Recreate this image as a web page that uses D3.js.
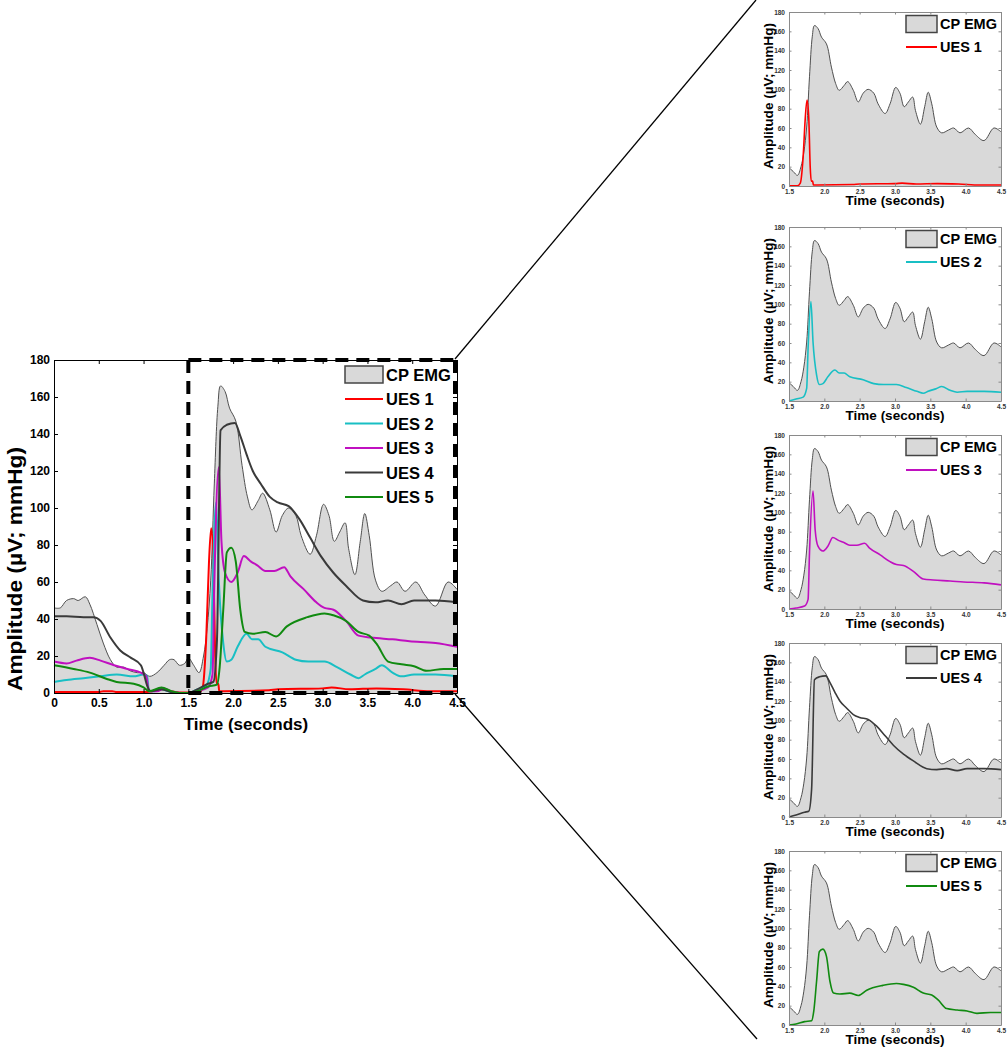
<!DOCTYPE html>
<html>
<head>
<meta charset="utf-8">
<script src="https://cdn.jsdelivr.net/npm/d3@7"></script>
<style>
  body { margin: 0; background: #fff; }
  text { font-family: "Liberation Sans", Arial, sans-serif; font-weight: bold; }
</style>
</head>
<body>
<svg id="chart" width="1008" height="1050"></svg>
<script>
// ---- data ----
const emgTime = [0, 0.07, 0.14, 0.22, 0.27, 0.35, 0.4, 0.48, 0.55, 0.63, 0.7, 0.78, 0.85, 0.93, 1.0, 1.07, 1.15, 1.23, 1.29, 1.34, 1.4, 1.46,
  1.5, 1.56, 1.62, 1.67, 1.71, 1.75, 1.79, 1.83, 1.86, 1.91, 1.96, 2.03, 2.1, 2.16, 2.21, 2.28, 2.33, 2.41, 2.48, 2.55, 2.62, 2.7, 2.76, 2.86,
  2.93, 3.01, 3.07, 3.13, 3.19, 3.25, 3.29, 3.36, 3.42, 3.47, 3.52, 3.59, 3.66, 3.76, 3.83, 3.92, 4.04, 4.14, 4.26, 4.4, 4.5];
const emgAmp = [46, 46, 50, 51, 50, 52, 48, 37, 27, 18, 14, 14, 12, 11, 11, 9, 11, 15, 18, 18, 15, 16,
  19, 15, 11, 20, 35, 61, 113, 155, 166, 163, 154, 147, 123, 106, 99, 104, 108, 99, 87, 96, 100, 96, 85, 75,
  85, 102, 96, 82, 87, 92, 78, 64, 82, 97, 85, 61, 55, 58, 60, 55, 60, 53, 47, 60, 56];

const ues1Time = [0, 0.5, 0.55, 0.65, 0.7, 1.0, 1.1, 1.2, 1.3, 1.4, 1.5, 1.62, 1.66, 1.7, 1.73, 1.755, 1.78, 1.8, 1.815, 1.835, 1.845, 1.9, 2.4, 2.5, 3.0, 3.1, 3.3, 3.6, 3.9, 4.2, 4.5];
const ues1Val = [0.5, 0.5, 1, 1, 0.5, 0.5, 1, 2, 1, 0.3, 0.3, 0.3, 3, 30, 70, 89, 70, 20, 5, 5, 1, 1, 1.5, 2, 2.5, 3, 2, 2.5, 2, 1, 1];

const ues2Time = [0, 0.14, 0.33, 0.52, 0.7, 0.89, 1.0, 1.04, 1.06, 1.12, 1.2, 1.27, 1.35, 1.5, 1.6, 1.7, 1.75, 1.77, 1.81, 1.84, 1.89, 1.93, 1.98,
  2.05, 2.15, 2.21, 2.28, 2.36, 2.55, 2.7, 2.84, 3.02, 3.16, 3.31, 3.4, 3.47, 3.59, 3.66, 3.78, 3.88, 4.02, 4.26, 4.5];
const ues2Val = [6, 7, 8, 9, 10, 9, 10, 9, 1, 1, 2, 1, 0, 0, 2, 4, 13, 54, 103, 61, 27, 17, 18,
  25, 32, 29, 29, 25, 22, 18, 17, 17, 14, 10, 8, 10, 13, 15, 11, 9, 10, 10, 9];

const ues3Time = [0, 0.14, 0.25, 0.4, 0.52, 0.67, 0.82, 0.97, 1.03, 1.06, 1.15, 1.23, 1.3, 1.42, 1.5, 1.6, 1.72, 1.77, 1.79, 1.84, 1.87, 1.91, 1.98,
  2.05, 2.12, 2.2, 2.27, 2.36, 2.46, 2.57, 2.64, 2.79, 2.93, 3.02, 3.12, 3.26, 3.4, 3.54, 3.78, 3.97, 4.26, 4.5];
const ues3Val = [17, 16, 17.5, 19, 17.5, 15, 13, 11, 9, 1, 1, 2.5, 1, 0, 0, 1, 3, 10, 58, 122, 82, 65, 60,
  65, 74, 71, 69, 66, 66, 68, 63, 56, 49, 46, 45, 39, 31, 30, 29, 28, 27, 25];

const ues4Time = [0, 0.14, 0.33, 0.44, 0.52, 0.63, 0.74, 0.86, 0.97, 1.0, 1.04, 1.08, 1.2, 1.35, 1.5, 1.6, 1.72, 1.78, 1.82, 1.86, 1.93, 2.02,
  2.08, 2.15, 2.22, 2.31, 2.41, 2.5, 2.62, 2.74, 2.86, 2.98, 3.12, 3.26, 3.45, 3.59, 3.73, 3.88, 4.02, 4.26, 4.5];
const ues4Val = [41.5, 41.5, 41, 41, 39, 30, 23, 19, 15, 11, 4, 1, 2, 0, 0, 2, 5, 6, 29, 142, 145, 146,
  139, 129, 120, 113, 106, 103, 101, 94, 84, 74, 65, 58, 50, 49, 50, 48, 50, 50, 49];

const ues5Time = [0, 0.22, 0.4, 0.59, 0.7, 0.89, 1.0, 1.06, 1.2, 1.31, 1.42, 1.5, 1.6, 1.72, 1.82, 1.85, 1.89, 1.93, 1.98, 2.03, 2.08, 2.13,
  2.22, 2.36, 2.48, 2.6, 2.83, 3.02, 3.12, 3.26, 3.4, 3.52, 3.61, 3.73, 3.88, 4.02, 4.16, 4.35, 4.5];
const ues5Val = [15, 13, 11, 7.6, 6, 5, 3, 1, 3, 1, 0, 0, 1, 3.5, 4.5, 14, 45, 76, 78.5, 71, 45, 33,
  32, 33, 30.5, 36, 41, 43, 42, 39, 33, 31, 26, 17, 15.5, 14.5, 12, 13, 13];

const uesNames = ['UES 1', 'UES 2', 'UES 3', 'UES 4', 'UES 5'];
const uesTimes = [ues1Time, ues2Time, ues3Time, ues4Time, ues5Time];
const uesValues = [ues1Val, ues2Val, ues3Val, ues4Val, ues5Val];
const uesColors = ['#ff0000', '#19bfc4', '#c010c0', '#3a3a3a', '#108a10'];

const mainXTicks = [0, 0.5, 1.0, 1.5, 2.0, 2.5, 3.0, 3.5, 4.0, 4.5];
const mainXLabels = ['0', '0.5', '1.0', '1.5', '2.0', '2.5', '3.0', '3.5', '4.0', '4.5'];
const panelXTicks = [1.5, 2.0, 2.5, 3.0, 3.5, 4.0, 4.5];
const panelXLabels = ['1.5', '2.0', '2.5', '3.0', '3.5', '4.0', '4.5'];
const yTicks = [0, 20, 40, 60, 80, 100, 120, 140, 160, 180];

const emgLabel = 'CP EMG';
const xTitle = 'Time (seconds)';
const yTitle = 'Amplitude (µV; mmHg)';

// ---- layout ----
const svg = d3.select('#chart');
const fillGray = '#d9d9d9';
const main = { left: 54, right: 457, top: 360, bottom: 693 };
const panelTops = [12, 227, 435, 643, 851];
const panelBox = { left: 789, right: 1001, height: 174 };

const pts = (ts, vs, t0) => ts.map((t, i) => [t, vs[i]]).filter(d => d[0] >= t0);

function drawPlot(g, x, y, t0, uesIdx, opt) {
  const emg = pts(emgTime, emgAmp, t0);
  const area = d3.area().x(d => x(d[0])).y0(y(0)).y1(d => y(d[1])).curve(d3.curveCatmullRom.alpha(0.5));
  const line = d3.line().x(d => x(d[0])).y(d => y(d[1])).curve(d3.curveCatmullRom.alpha(0.5));

  g.append('path').datum(emg).attr('d', area).attr('fill', fillGray);
  g.append('path').datum(emg).attr('d', line).attr('fill', 'none')
    .attr('stroke', '#505050').attr('stroke-width', opt.emgW);

  const uLine = d3.line().x(d => x(d[0])).y(d => y(d[1])).curve(d3.curveMonotoneX);
  uesIdx.forEach(i => {
    g.append('path').datum(pts(uesTimes[i], uesValues[i], t0)).attr('d', uLine)
      .attr('fill', 'none').attr('stroke', uesColors[i]).attr('stroke-width', opt.lineW)
      .attr('stroke-linejoin', 'round');
  });

  // axes, ticks pointing inward like matlab
  const [x0, x1] = x.range();
  const [yb, yt] = y.range();
  const ax = (gen, tx, ty) => g.append('g').attr('transform', `translate(${tx},${ty})`).call(gen);
  ax(d3.axisBottom(x).tickValues(opt.xTicks).tickFormat((d, i) => opt.xLabels[i])
    .tickSizeInner(-opt.tick).tickSizeOuter(0).tickPadding(opt.xPad), 0, yb);
  ax(d3.axisLeft(y).tickValues(yTicks).tickSizeInner(-opt.tick).tickSizeOuter(0).tickPadding(opt.yPad), x0, 0);
  ax(d3.axisTop(x).tickValues(opt.xTicks).tickFormat('').tickSizeInner(-opt.tick).tickSizeOuter(0), 0, yt);
  ax(d3.axisRight(y).tickValues(yTicks).tickFormat('').tickSizeInner(-opt.tick).tickSizeOuter(0), x1, 0);
  g.selectAll('.domain, .tick line').attr('stroke', opt.axisColor);
  g.selectAll('.tick text').attr('font-size', opt.tickFont).attr('fill', opt.tickColor)
    .style('font-family', '"Liberation Sans", Arial, sans-serif').style('font-weight', 'bold');

  g.append('text').attr('x', opt.xTitleX).attr('y', yb + opt.xTitleDy)
    .attr('text-anchor', 'middle').attr('font-size', opt.titleFont).text(xTitle);
  g.append('text').attr('transform', `translate(${opt.yTitleX},${opt.yTitleY}) rotate(-90)`)
    .attr('text-anchor', 'middle').attr('dominant-baseline', 'central')
    .attr('font-size', opt.yTitleFont)
    .attr('textLength', opt.yTitleLen).attr('lengthAdjust', 'spacingAndGlyphs')
    .text(yTitle);
}

function drawLegend(g, lx, ly, w, step, font, uesIdx, lineW) {
  g.append('rect').attr('x', lx).attr('y', ly - 8.5).attr('width', w).attr('height', 17)
    .attr('fill', fillGray).attr('stroke', '#444').attr('stroke-width', 1.5);
  g.append('text').attr('x', lx + w + 3).attr('y', ly).attr('dominant-baseline', 'central')
    .attr('font-size', font).text(emgLabel);
  uesIdx.forEach((i, k) => {
    const yy = ly + step * (k + 1);
    g.append('line').attr('x1', lx).attr('x2', lx + w).attr('y1', yy).attr('y2', yy)
      .attr('stroke', uesColors[i]).attr('stroke-width', lineW);
    g.append('text').attr('x', lx + w + 3).attr('y', yy).attr('dominant-baseline', 'central')
      .attr('font-size', font).text(uesNames[i]);
  });
}

// ---- main chart ----
const xMain = d3.scaleLinear().domain([0, 4.5]).range([main.left, main.right]);
const yMain = d3.scaleLinear().domain([0, 180]).range([main.bottom, main.top]);
const mainG = svg.append('g');
drawPlot(mainG, xMain, yMain, 0, [0, 1, 2, 3, 4], {
  emgW: 1, lineW: 2, tick: 4, xTicks: mainXTicks, xLabels: mainXLabels, xPad: 5, yPad: 4,
  axisColor: '#000', tickFont: 12, tickColor: '#000', titleFont: 17, yTitleFont: 20, yTitleLen: 244,
  xTitleX: 246, xTitleDy: 37, yTitleX: 15, yTitleY: 569
});
drawLegend(mainG, 345, 374.5, 38, 24.5, 16.5, [0, 1, 2, 3, 4], 2);

// dashed zoom box
const zx0 = xMain(1.5), zx1 = xMain(4.5) - 2;
const dash = [[zx0, main.top, zx0, main.bottom], [zx0, main.top, zx1, main.top],
  [zx0, main.bottom, zx1, main.bottom], [zx1, main.top, zx1, main.bottom]];
mainG.selectAll('.zoomdash').data(dash).join('line').attr('class', 'zoomdash')
  .attr('x1', d => d[0]).attr('y1', d => d[1]).attr('x2', d => d[2]).attr('y2', d => d[3])
  .attr('stroke', '#000').attr('stroke-width', 4).attr('stroke-dasharray', '13,8');

// connector lines to the panel column
svg.append('line').attr('x1', xMain(4.5) - 2).attr('y1', yMain(180) - 1).attr('x2', 756).attr('y2', 0)
  .attr('stroke', '#000').attr('stroke-width', 1.3);
svg.append('line').attr('x1', xMain(4.5) - 2).attr('y1', yMain(0) + 1).attr('x2', 757).attr('y2', 1039)
  .attr('stroke', '#000').attr('stroke-width', 1.3);

// ---- zoomed panels ----
panelTops.forEach((top, i) => {
  const x = d3.scaleLinear().domain([1.5, 4.5]).range([panelBox.left, panelBox.right]);
  const y = d3.scaleLinear().domain([0, 180]).range([top + panelBox.height, top]);
  const g = svg.append('g');
  drawPlot(g, x, y, 1.5, [i], {
    emgW: 1, lineW: 1.6, tick: 2.5, xTicks: panelXTicks, xLabels: panelXLabels, xPad: 3, yPad: 4,
    axisColor: '#8a8a8a', tickFont: 6.5, tickColor: '#333', titleFont: 13.5, yTitleFont: 13.5, yTitleLen: 146,
    xTitleX: 895, xTitleDy: 19, yTitleX: 768, yTitleY: top + 84
  });
  drawLegend(g, 906, top + 12, 31, 23, 14.5, [i], 2);
});
</script>
</body>
</html>
